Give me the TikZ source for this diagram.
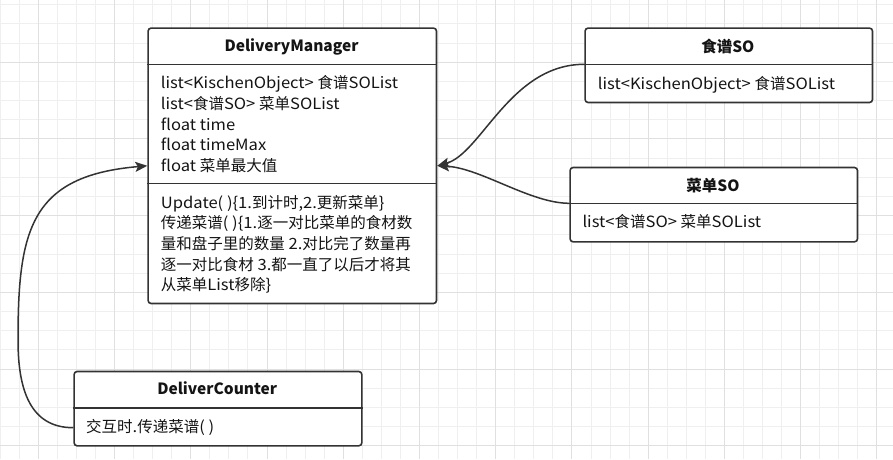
\documentclass[tikz,border=0pt]{standalone}
\usepackage{fontspec}
\setmainfont{Noto Sans CJK SC}[FakeStretch=1.07]
\newfontfamily\zhfont{Noto Sans CJK SC}
\newcommand\zh[1]{{\zhfont #1}}
\usetikzlibrary{arrows.meta}

\definecolor{gridminor}{HTML}{EFEFEF}
\definecolor{gridmajor}{HTML}{E0E0E0}
\definecolor{ink}{HTML}{333333}
\definecolor{txt}{HTML}{141414}

\begin{document}
\begin{tikzpicture}[x=1pt,y=-1pt,
  umlbox/.style={draw=ink, line width=1.6pt, fill=white, rounded corners=3pt, inner sep=0pt, anchor=north west},
  divider/.style={draw=ink, line width=1.6pt},
  title/.style={font=\fontsize{15.5}{20.6}\selectfont\zhfont\bfseries, text=txt, anchor=base, inner sep=0pt},
  member/.style={font=\fontsize{15.5}{20.6}\selectfont, text=txt, anchor=base west, inner sep=0pt},
  link/.style={draw=ink, line width=1.5pt, -{Stealth[length=12pt,width=10pt,inset=2.5pt]}},
  gminor/.style={draw=gridminor, line width=1pt},
  gmajor/.style={draw=gridmajor, line width=1pt},
]
\fill[white] (0,0) rectangle (893,459);
\useasboundingbox (0,0) rectangle (893,459);

% grid
\foreach \i in {0,...,46}{\draw[gminor] ({0.18+19.06*\i},0) -- ({0.18+19.06*\i},459);}
\foreach \j in {0,...,23}{\draw[gminor] (0,{4.8+19.17*\j}) -- (893,{4.8+19.17*\j});}
\foreach \i in {2,6,...,46}{\draw[gmajor] ({0.18+19.06*\i},0) -- ({0.18+19.06*\i},459);}
\foreach \j in {3,7,...,23}{\draw[gmajor] (0,{4.8+19.17*\j}) -- (893,{4.8+19.17*\j});}

% DeliveryManager
\node[umlbox, minimum width=288.4pt, minimum height=275.4pt] (dm) at (147.3,27.3) {};
\draw[divider] ([yshift=-37pt]dm.north west) -- ([yshift=-37pt]dm.north east);
\draw[divider] ([yshift=-156pt]dm.north west) -- ([yshift=-156pt]dm.north east);
\node[title] (dmt) at (291.5,51.5) {DeliveryManager};
\node[member] (dma1) at (160.7,88.8) {list<KischenObject> \zh{食谱}SOList};
\node[member] (dma2) at (160.7,109.4) {list<\zh{食谱}SO> \zh{菜单}SOList};
\node[member] (dma3) at (160.7,130.0) {float time};
\node[member] (dma4) at (160.7,150.6) {float timeMax};
\node[member] (dma5) at (160.7,171.2) {float \zh{菜单最大值}};
\node[member] (dmm1) at (160.7,208.2) {Update( )\{1.\zh{到计时},2.\zh{更新菜单}\}};
\node[member] (dmm2) at (160.7,228.8) {\zh{传递菜谱}( )\{1.\zh{逐一对比菜单的食材数}};
\node[member] (dmm3) at (160.7,249.4) {\zh{量和盘子里的数量} 2.\zh{对比完了数量再}};
\node[member] (dmm4) at (160.7,270.0) {\zh{逐一对比食材} 3.\zh{都一直了以后才将其}};
\node[member] (dmm5) at (160.7,290.6) {\zh{从菜单}List\zh{移除}\}};

% 食谱SO
\node[umlbox, minimum width=287.4pt, minimum height=74.4pt] (sp) at (584.3,27.3) {};
\draw[divider] ([yshift=-37pt]sp.north west) -- ([yshift=-37pt]sp.north east);
\node[title] (spt) at (727.8,52) {食谱SO};
\node[member] (spa) at (597.7,89.8) {list<KischenObject> \zh{食谱}SOList};

% 菜单SO
\node[umlbox, minimum width=287.4pt, minimum height=74.3pt] (ms) at (569.3,166.7) {};
\draw[divider] ([yshift=-36.6pt]ms.north west) -- ([yshift=-36.6pt]ms.north east);
\node[title] (mst) at (713,191.2) {菜单SO};
\node[member] (msa) at (582.3,227.8) {list<\zh{食谱}SO> \zh{菜单}SOList};

% DeliverCounter
\node[umlbox, minimum width=287.7pt, minimum height=74.3pt] (dc) at (73.3,370.7) {};
\draw[divider] ([yshift=-37pt]dc.north west) -- ([yshift=-37pt]dc.north east);
\node[title] (dct) at (217.2,394.8) {DeliverCounter};
\node[member] (dca) at (86,432.2) {\zh{交互时}.\zh{传递菜谱}( )};

% ports
\coordinate (spport) at ([yshift=-37pt]sp.north west);
\coordinate (msport) at ([yshift=-36.6pt]ms.north west);
\coordinate (dcport) at ([yshift=-57pt]dc.north west);
\coordinate (bendpt) at (18,340);

% connectors
\draw[link] (spport) .. controls +(-74,0) and +(44,-12) .. (dm.east);
\draw[link] (msport) .. controls +(-39,0) and +(43,2) .. (dm.east);
\draw[link] (dcport) .. controls +(-43,0) and +(0,50) .. (bendpt)
  .. controls +(0,-110) and +(-117,10) .. (dm.west);
\end{tikzpicture}
\end{document}
